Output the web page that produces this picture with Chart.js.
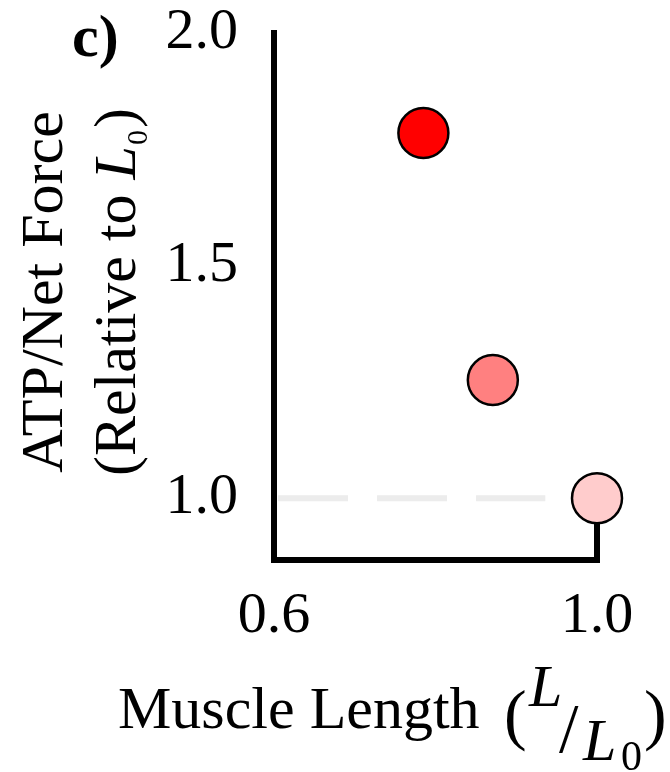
<!DOCTYPE html>
<html>
<head>
<meta charset="utf-8">
<script src="https://cdn.jsdelivr.net/npm/chart.js@4.4.1/dist/chart.umd.min.js"></script>
<style>
  html, body { margin: 0; padding: 0; background: #fff; }
  #wrap { width: 670px; height: 772px; position: relative; }
</style>
</head>
<body>
<div id="wrap"><canvas id="myChart" width="670" height="772"></canvas></div>
<script>
// data
var muscleLength = [0.785, 0.871, 1.0];
var atpPerForce = [1.785, 1.254, 1.0];
var pointColors = ['#ff0000', '#ff8080', '#ffcccc'];

var xTicks = [0.6, 1.0];
var yTicks = [1.0, 1.5, 2.0];
var xMin = 0.6, xMax = 1.0;
var yMin = 0.867, yMax = 2.0;

// dashed reference at 1.0 and the stem under the last point
var refX = [0.605, 0.936];
var refY = 1.0;
var stemX = 1.0;

var serif = '"Liberation Serif", "Times New Roman", serif';

function drawRuns(ctx, runs, x, y) {
  runs.forEach(function (r) {
    ctx.font = r.font;
    ctx.fillText(r.text, x, y + (r.dy || 0));
    x += ctx.measureText(r.text).width + (r.gap || 0);
  });
}

function runsWidth(ctx, runs) {
  var w = 0;
  runs.forEach(function (r) {
    ctx.font = r.font;
    w += ctx.measureText(r.text).width + (r.gap || 0);
  });
  return w;
}

var labelsPlugin = {
  id: 'labels',
  afterDraw: function (chart) {
    var ctx = chart.ctx;
    var xs = chart.scales.x, ys = chart.scales.y;
    var left = xs.getPixelForValue(xMin), right = xs.getPixelForValue(xMax);
    var top = ys.getPixelForValue(yMax), bottom = ys.getPixelForValue(yMin);

    ctx.save();
    // axes
    ctx.strokeStyle = '#000';
    ctx.lineWidth = 6;
    ctx.lineCap = 'square';
    ctx.beginPath();
    ctx.moveTo(left, top);
    ctx.lineTo(left, bottom);
    ctx.lineTo(right, bottom);
    ctx.stroke();

    ctx.fillStyle = '#000';
    ctx.textBaseline = 'alphabetic';
    ctx.textAlign = 'left';

    // panel letter
    ctx.font = 'bold 60px ' + serif;
    ctx.fillText('c)', 72, 56);

    // y title, two lines rotated
    var line1 = [{ text: 'ATP/Net Force', font: '60px ' + serif }];
    var line2 = [
      { text: '(Relative to ', font: '60px ' + serif },
      { text: 'L', font: 'italic 60px ' + serif, gap: 1 },
      { text: '0', font: '30px ' + serif, dy: 12, gap: 2 },
      { text: ')', font: '60px ' + serif }
    ];
    [[line1, 62], [line2, 135]].forEach(function (l) {
      ctx.save();
      ctx.translate(l[1], 292);
      ctx.rotate(-Math.PI / 2);
      drawRuns(ctx, l[0], -runsWidth(ctx, l[0]) / 2, 0);
      ctx.restore();
    });

    // x title
    ctx.font = '60px ' + serif;
    ctx.fillText('Muscle Length', 118, 728);
    ctx.font = '68px ' + serif;
    ctx.fillText('(', 504, 737);
    ctx.font = 'italic 60px ' + serif;
    ctx.fillText('L', 529, 706);
    ctx.font = '70px ' + serif;
    ctx.fillText('/', 559, 752);
    ctx.font = 'italic 60px ' + serif;
    ctx.fillText('L', 583, 760);
    ctx.font = '42px ' + serif;
    ctx.fillText('0', 621, 770);
    ctx.font = '68px ' + serif;
    ctx.fillText(')', 644, 737);
    ctx.restore();
  }
};

new Chart('myChart', {
  type: 'scatter',
  data: {
    datasets: [{
      data: muscleLength.map(function (v, i) { return { x: v, y: atpPerForce[i] }; }),
      backgroundColor: pointColors,
      borderColor: '#000',
      borderWidth: 2.5,
      pointRadius: 25,
      pointHoverRadius: 25,
      clip: false,
      order: 0
    }, {
      type: 'line',
      data: [{ x: refX[0], y: refY }, { x: refX[1], y: refY }],
      borderColor: '#ececec',
      borderWidth: 6,
      borderDash: [70, 29],
      pointRadius: 0,
      clip: false,
      order: 2
    }, {
      type: 'line',
      data: [{ x: stemX, y: yMin }, { x: stemX, y: atpPerForce[2] }],
      borderColor: '#000',
      borderWidth: 6,
      pointRadius: 0,
      clip: false,
      order: 1
    }]
  },
  options: {
    responsive: false,
    animation: false,
    events: [],
    layout: { autoPadding: false, padding: { left: 0, right: 73, top: 0, bottom: 0 } },
    plugins: { legend: { display: false }, tooltip: { enabled: false } },
    scales: {
      x: {
        type: 'linear',
        min: xMin,
        max: xMax,
        afterBuildTicks: function (s) { s.ticks = xTicks.map(function (v) { return { value: v }; }); },
        afterFit: function (s) { s.height = 212; },
        grid: { display: false, drawTicks: false },
        border: { display: false },
        ticks: {
          color: '#000',
          padding: 22,
          font: { family: serif, size: 58 },
          callback: function (v) { return v.toFixed(1); }
        }
      },
      y: {
        min: yMin,
        max: yMax,
        afterBuildTicks: function (s) { s.ticks = yTicks.map(function (v) { return { value: v }; }); },
        afterFit: function (s) { s.width = 274; s.paddingTop = 33; s.paddingBottom = 0; },
        grid: { display: false, drawTicks: false },
        border: { display: false },
        ticks: {
          color: '#000',
          padding: 36,
          font: { family: serif, size: 58 },
          callback: function (v) { return v.toFixed(1); }
        }
      }
    }
  },
  plugins: [labelsPlugin]
});
</script>
</body>
</html>
